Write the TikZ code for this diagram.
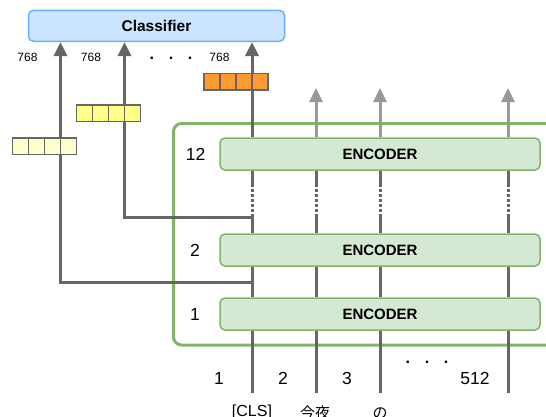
\documentclass[tikz,border=0pt]{standalone}
\usepackage{fontspec}
\setmainfont{Liberation Sans}
\newfontfamily\cjkfont{Noto Sans CJK JP}
\usetikzlibrary{arrows.meta}

\definecolor{wire}{HTML}{666666}
\definecolor{wirelight}{HTML}{999999}
\definecolor{clsfill}{HTML}{CCE5FF}
\definecolor{clsdraw}{HTML}{66B2FF}
\definecolor{encfill}{HTML}{D5E8D4}
\definecolor{encdraw}{HTML}{82B366}
\definecolor{vecorange}{HTML}{FF9933}
\definecolor{vecyellow}{HTML}{FFFF88}
\definecolor{vecpale}{HTML}{FFFFCC}

\tikzset{
  wireline/.style={draw=wire, line width=3pt},
  uparrow/.style={-{Triangle[width=13pt,length=14pt]}},
  dottedwire/.style={draw=wire, line width=3pt, dash pattern=on 3pt off 2pt},
  encbox/.style={draw=encdraw, fill=encfill, line width=1.5pt, rounded corners=5pt,
    minimum width=320pt, minimum height=32pt, inner sep=0pt,
    font=\fontsize{15}{18}\selectfont\bfseries},
  clsbox/.style={draw=clsdraw, fill=clsfill, line width=1.5pt, rounded corners=5pt,
    minimum width=256pt, minimum height=31pt, inner sep=0pt,
    font=\fontsize{15.5}{18}\selectfont\bfseries},
  group/.style={draw=encdraw, line width=3pt, rounded corners=8pt},
  dimlabel/.style={inner sep=0pt, font=\fontsize{12}{14}\selectfont},
  numlabel/.style={inner sep=0pt, font=\fontsize{17.5}{20}\selectfont},
  toklabel/.style={inner sep=0pt, anchor=base, font=\fontsize{16}{19}\selectfont},
  dotrow/.style={inner sep=0pt, font=\fontsize{16}{16}\selectfont\bfseries},
  cell/.style={draw=wire, line width=1.5pt},
}

\begin{document}
\begin{tikzpicture}[x=1pt,y=-1pt]
\useasboundingbox (0,0) rectangle (546,416);

% encoder stack frame
\draw[group] (173.5,123.5) rectangle (600,345);

% classifier and encoder layers
\node[clsbox] (clf) at (156.5,25.8) {Classifier};
\node[encbox] (enc12) at (380,154) {ENCODER};
\node[encbox] (enc2) at (380,250) {ENCODER};
\node[encbox] (enc1) at (380,314) {ENCODER};

% token columns
\foreach \c/\x in {1/252,2/316,3/380,4/508}{
  \coordinate (in\c) at (\x,393);
  \coordinate (lo\c) at (\x,217);
  \coordinate (hi\c) at (\x,187);
  \draw[wireline] (in\c) -- (enc1.south -| in\c);
  \draw[wireline] (enc1.north -| in\c) -- (enc2.south -| in\c);
  \draw[wireline] (enc2.north -| in\c) -- (lo\c);
  \draw[dottedwire] (lo\c) -- (hi\c);
  \draw[wireline] (hi\c) -- (enc12.south -| in\c);
}

% outputs of the other tokens
\foreach \c/\x in {2/316,3/380,4/508}{
  \coordinate (out\c) at (\x,88);
  \draw[wireline, draw=wirelight, uparrow] (enc12.north -| in\c) -- (out\c);
}

% [CLS] output of the last layer
\draw[wireline, uparrow] (enc12.north -| in1) -- (clf.south -| in1);

% [CLS] taps from lower layers
\coordinate (tapA) at (252,217);
\coordinate (feedA) at (124.5,217);
\draw[wireline, uparrow] (tapA) -- (feedA) -- (clf.south -| feedA);
\coordinate (tapB) at (252,282);
\coordinate (feedB) at (60.5,282);
\draw[wireline, uparrow] (tapB) -- (feedB) -- (clf.south -| feedB);

% feature vectors
\foreach \i in {0,...,3}{
  \draw[cell, fill=vecorange] (204+16*\i,73.5) rectangle ++(16,16.5);
  \draw[cell, fill=vecyellow] (76.5+16*\i,105) rectangle ++(16,16.5);
  \draw[cell, fill=vecpale] (12.5+16*\i,138) rectangle ++(16,16.5);
}

% dimension labels
\node[dimlabel] (dimB) at (27.5,57.5) {768};
\node[dimlabel] (dimA) at (91,57.5) {768};
\node[dimlabel] (dimC) at (219.5,57.5) {768};
\node[dotrow] (topdots) at (171,58.5) {.\hspace{14.6pt}.\hspace{14.6pt}.};

% layer numbers
\node[numlabel] (l12) at (195.5,154.5) {12};
\node[numlabel] (l2) at (195,250) {2};
\node[numlabel] (l1) at (195,314) {1};

% token positions
\node[numlabel] (p1) at (219,378) {1};
\node[numlabel] (p2) at (283,378) {2};
\node[numlabel] (p3) at (347,378) {3};
\node[dotrow] (botdots) at (427,362) {.\hspace{14.6pt}.\hspace{14.6pt}.};
\node[numlabel] (p512) at (475,378) {512};

% tokens
\node[toklabel] (t1) at (252,416.5) {[CLS]};
\node[toklabel, font=\fontsize{15}{18}\selectfont\cjkfont] (t2) at (315,418) {今夜};
\node[toklabel, font=\fontsize{15}{18}\selectfont\cjkfont] (t3) at (380,418) {の};
\end{tikzpicture}
\end{document}
